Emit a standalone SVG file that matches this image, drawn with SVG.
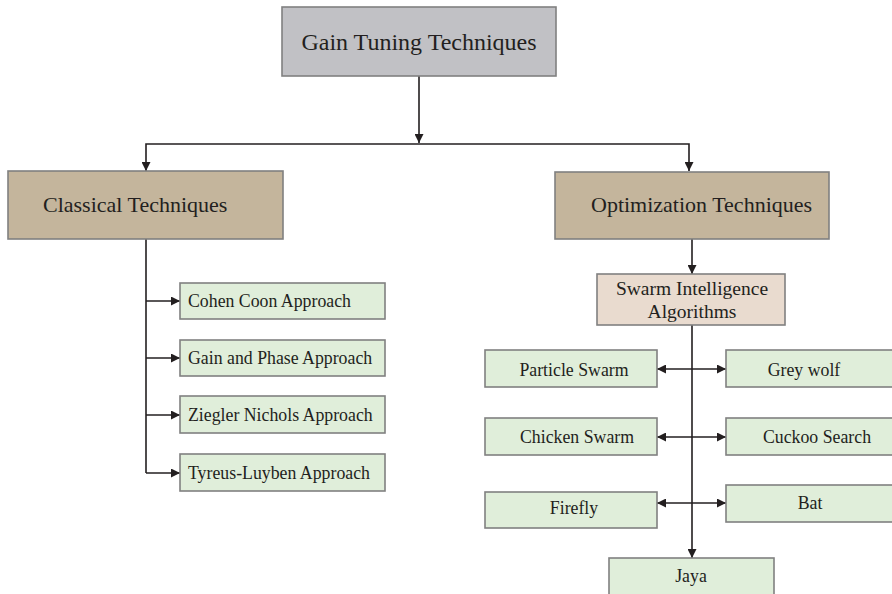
<svg xmlns="http://www.w3.org/2000/svg" width="892" height="594" viewBox="0 0 892 594">
  <style>
    .box { stroke: #808080; stroke-width: 1.6; }
    .root { fill: #c1c1c5; }
    .cat { fill: #c4b59c; }
    .sub { fill: #e9dbcf; }
    .leaf { fill: #e0eeda; }
    text { font-family: "Liberation Serif", "Times New Roman", serif; fill: #231f20; }
    .t24 { font-size: 24px; }
    .t22 { font-size: 22px; }
    .t20 { font-size: 19.5px; }
    .t18 { font-size: 17.8px; }
    .mid { text-anchor: middle; }
    .wire { fill: none; stroke: #231f20; stroke-width: 1.6; }
  </style>
  <defs>
    <marker id="arrow" viewBox="0 0 10 10" refX="10" refY="5" markerWidth="9" markerHeight="9" markerUnits="userSpaceOnUse" orient="auto-start-reverse">
      <path d="M0,0 L10,5 L0,10 Z" fill="#231f20"/>
    </marker>
  </defs>
  <rect width="892" height="594" fill="#ffffff"/>

  <g id="connectors">
    <!-- root to the two categories -->
    <line class="wire" x1="419" y1="76" x2="419" y2="143" marker-end="url(#arrow)"/>
    <polyline class="wire" points="146,171 146,144 689,144 689,171" marker-start="url(#arrow)" marker-end="url(#arrow)"/>
    <!-- classical branch -->
    <line class="wire" x1="146" y1="239" x2="146" y2="473"/>
    <line class="wire" x1="146" y1="301" x2="180" y2="301" marker-end="url(#arrow)"/>
    <line class="wire" x1="146" y1="358" x2="180" y2="358" marker-end="url(#arrow)"/>
    <line class="wire" x1="146" y1="415" x2="180" y2="415" marker-end="url(#arrow)"/>
    <line class="wire" x1="146" y1="473" x2="180" y2="473" marker-end="url(#arrow)"/>
    <!-- optimization branch -->
    <line class="wire" x1="692" y1="239" x2="692" y2="274" marker-end="url(#arrow)"/>
    <line class="wire" x1="692" y1="325" x2="692" y2="558" marker-end="url(#arrow)"/>
    <line class="wire" x1="657" y1="369" x2="726" y2="369" marker-start="url(#arrow)" marker-end="url(#arrow)"/>
    <line class="wire" x1="657" y1="437" x2="726" y2="437" marker-start="url(#arrow)" marker-end="url(#arrow)"/>
    <line class="wire" x1="657" y1="503" x2="726" y2="503" marker-start="url(#arrow)" marker-end="url(#arrow)"/>
  </g>

  <g id="root">
    <rect class="box root" x="282" y="7" width="274" height="69"/>
    <text class="t24 mid" x="419" y="50">Gain Tuning Techniques</text>
  </g>

  <g id="classical">
    <rect class="box cat" x="8" y="171" width="275" height="68"/>
    <text class="t22" x="43" y="212">Classical Techniques</text>
  </g>

  <g id="optimization">
    <rect class="box cat" x="555" y="172" width="274" height="67"/>
    <text class="t22" x="591" y="212">Optimization Techniques</text>
  </g>

  <g id="cohen-coon">
    <rect class="box leaf" x="180" y="283" width="205" height="36"/>
    <text class="t18" x="188" y="307">Cohen Coon Approach</text>
  </g>
  <g id="gain-phase">
    <rect class="box leaf" x="180" y="340" width="205" height="36"/>
    <text class="t18" x="188" y="364">Gain and Phase Approach</text>
  </g>
  <g id="ziegler-nichols">
    <rect class="box leaf" x="180" y="396" width="205" height="37"/>
    <text class="t18" x="188" y="421">Ziegler Nichols Approach</text>
  </g>
  <g id="tyreus-luyben">
    <rect class="box leaf" x="180" y="454" width="205" height="37"/>
    <text class="t18" x="188" y="479">Tyreus-Luyben Approach</text>
  </g>

  <g id="swarm">
    <rect class="box sub" x="597" y="274" width="188" height="51"/>
    <text class="t20 mid" x="692" y="295">Swarm Intelligence</text>
    <text class="t20 mid" x="692" y="318">Algorithms</text>
  </g>

  <g id="particle-swarm">
    <rect class="box leaf" x="485" y="350" width="172" height="37"/>
    <text class="t18 mid" x="574" y="376">Particle Swarm</text>
  </g>
  <g id="grey-wolf">
    <rect class="box leaf" x="726" y="350" width="180" height="37"/>
    <text class="t18 mid" x="804" y="376">Grey wolf</text>
  </g>
  <g id="chicken-swarm">
    <rect class="box leaf" x="485" y="418" width="172" height="37"/>
    <text class="t18 mid" x="577" y="443">Chicken Swarm</text>
  </g>
  <g id="cuckoo-search">
    <rect class="box leaf" x="726" y="418" width="180" height="37"/>
    <text class="t18 mid" x="817" y="443">Cuckoo Search</text>
  </g>
  <g id="firefly">
    <rect class="box leaf" x="485" y="492" width="172" height="36"/>
    <text class="t18 mid" x="574" y="514">Firefly</text>
  </g>
  <g id="bat">
    <rect class="box leaf" x="726" y="485" width="180" height="37"/>
    <text class="t18 mid" x="810" y="509">Bat</text>
  </g>
  <g id="jaya">
    <rect class="box leaf" x="609" y="558" width="165" height="50"/>
    <text class="t18 mid" x="691" y="582">Jaya</text>
  </g>
</svg>
